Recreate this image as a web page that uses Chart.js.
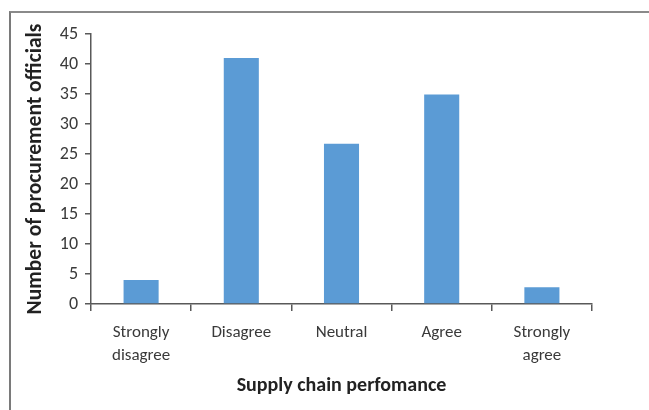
<!DOCTYPE html>
<html>
<head>
<meta charset="utf-8">
<script src="https://cdn.jsdelivr.net/npm/chart.js@4"></script>
<style>
  html, body { margin: 0; padding: 0; background: #fff; }
  #wrap { position: relative; width: 649px; height: 410px; }
  #frame { position: absolute; left: 9px; top: 11px; right: 0; bottom: 0;
           border-top: 2px solid #8a8a8a; border-left: 2px solid #7a7a7a; box-sizing: border-box; }
  canvas { position: absolute; left: 0; top: 0; }
</style>
</head>
<body>
<div id="wrap">
  <div id="frame"></div>
  <canvas id="c" width="649" height="410"></canvas>
</div>
<script>
// Survey responses on supply chain performance
const categories = [["Strongly", "disagree"], "Disagree", "Neutral", "Agree", ["Strongly", "agree"]];
const officials = [4, 41, 26.7, 34.9, 2.8];
const yTicks = [0, 5, 10, 15, 20, 25, 30, 35, 40, 45];

const FONT = "Carlito, Calibri, Lato, sans-serif";
const TEXT = "#3a3a3a";
const AXIS = "#595959";

new Chart(document.getElementById("c"), {
  type: "bar",
  data: {
    labels: categories,
    datasets: [{
      data: officials,
      backgroundColor: "#5B9BD5",
      borderWidth: 0,
      barPercentage: 0.35,
      categoryPercentage: 1.0
    }]
  },
  options: {
    responsive: false,
    animation: false,
    devicePixelRatio: 1,
    layout: { padding: { left: 23, right: 57, top: 34, bottom: 12 } },
    plugins: { legend: { display: false }, tooltip: { enabled: false } },
    scales: {
      x: {
        offset: true,
        grid: { display: true, offset: true, drawOnChartArea: false, drawTicks: true,
                tickLength: 7, color: AXIS, lineWidth: 1.5 },
        border: { display: true, color: AXIS, width: 1.5 },
        ticks: { color: TEXT, font: { family: FONT, size: 17, lineHeight: 1.35 }, padding: 10,
                 maxRotation: 0, autoSkip: false },
        title: { display: true, text: "Supply chain perfomance", color: "#222",
                 font: { family: FONT, size: 20, weight: "bold" }, padding: { top: 10, bottom: 0 } },
        afterFit: (s) => { s.height = 94; }
      },
      y: {
        min: 0, max: 45,
        afterBuildTicks: (s) => { s.ticks = yTicks.map(v => ({ value: v })); },
        grid: { display: true, drawOnChartArea: false, drawTicks: true,
                tickLength: 6, color: AXIS, lineWidth: 1.5 },
        border: { display: true, color: AXIS, width: 1.5 },
        ticks: { color: TEXT, font: { family: FONT, size: 18 }, padding: 7 },
        title: { display: true, text: "Number of procurement officials", color: "#222",
                 font: { family: FONT, size: 21.5, weight: "bold" }, padding: { top: 0, bottom: 7 } },
        afterFit: (s) => { s.width = 68; }
      }
    }
  }
});
</script>
</body>
</html>
